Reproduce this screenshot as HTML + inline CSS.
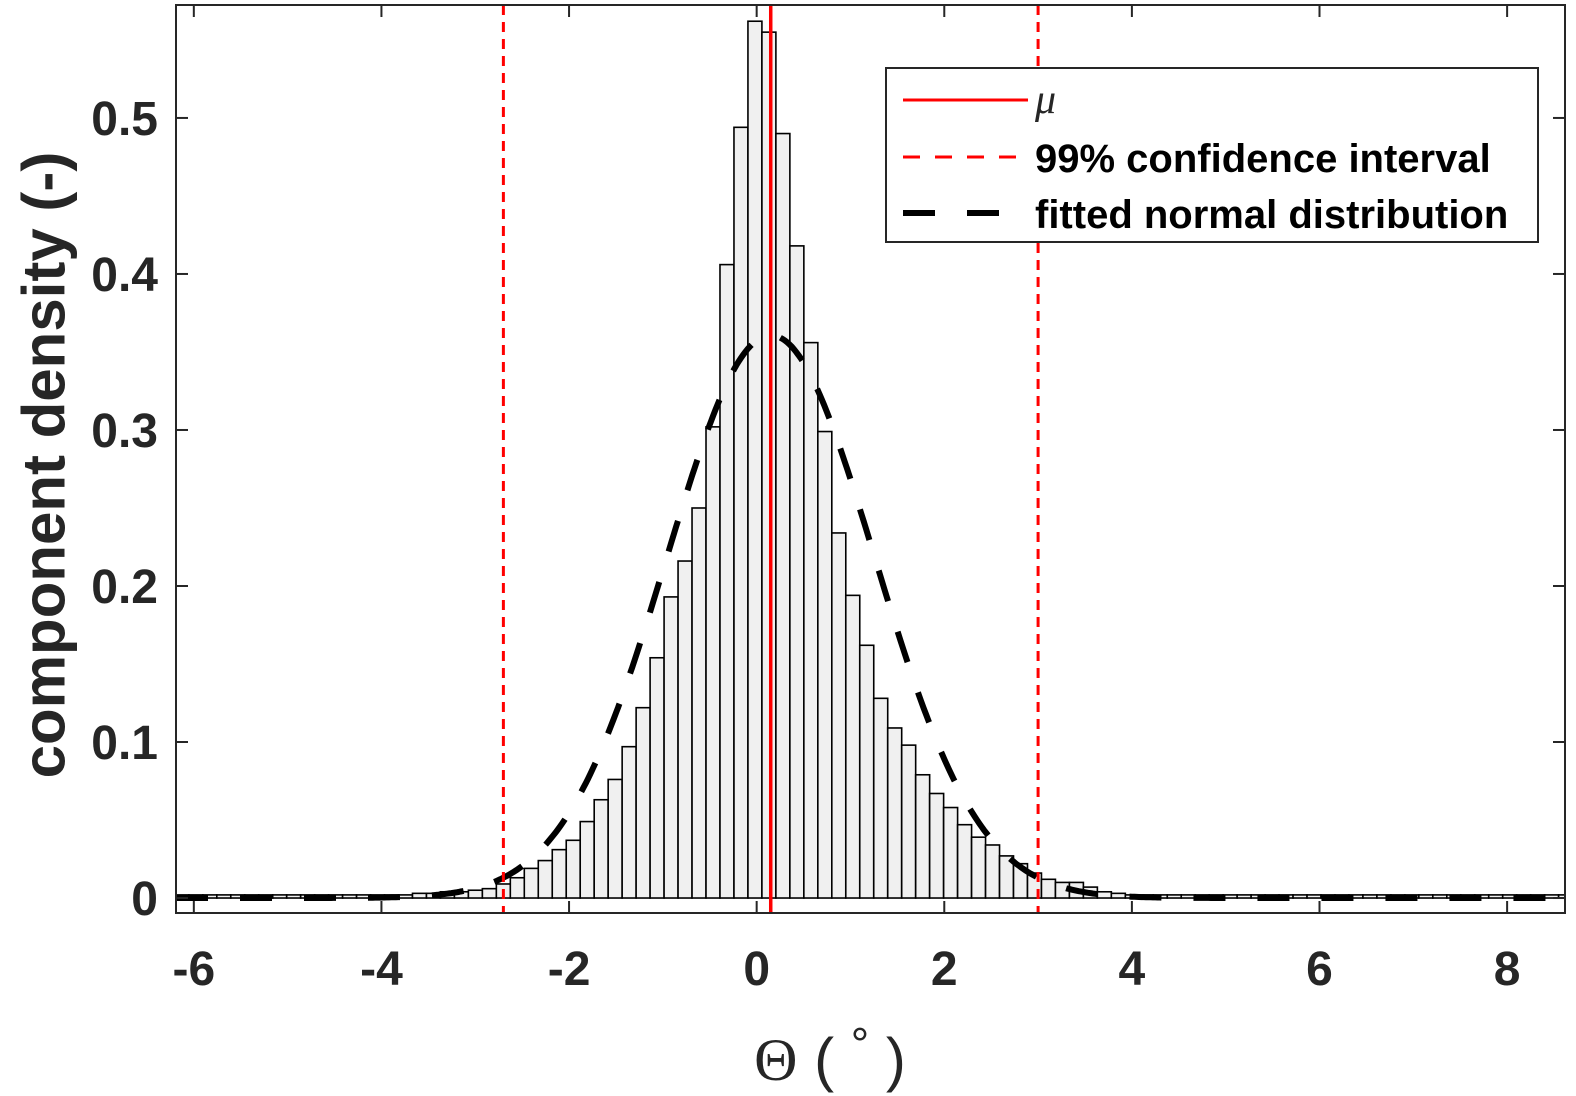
<!DOCTYPE html>
<html><head><meta charset="utf-8"><style>
html,body{margin:0;padding:0;background:#fff;}
svg{display:block;font-family:"Liberation Sans",sans-serif;}
</style></head><body>
<svg id="chart" width="1576" height="1096" viewBox="0 0 1576 1096" xmlns="http://www.w3.org/2000/svg">
<defs><clipPath id="clip"><rect x="176" y="5" width="1389" height="908"/></clipPath></defs>
<rect x="0" y="0" width="1576" height="1096" fill="#fff"/>
<g id="bars" clip-path="url(#clip)"></g>
<g id="lines" clip-path="url(#clip)"></g>
<rect x="176" y="5" width="1389" height="908" fill="none" stroke="#262626" stroke-width="2"/>
<g id="ticks"></g>
<text x="44" y="465" transform="rotate(-90 44 465)" text-anchor="middle" dominant-baseline="central" font-size="60" font-weight="bold" fill="#262626">component density (-)</text>
<text x="830" y="1080" text-anchor="middle" font-size="60" fill="#262626"><tspan font-family="Liberation Serif,serif">Θ</tspan> ( <tspan font-size="46" dy="-20">°</tspan><tspan dy="20"> )</tspan></text>
<g>
<rect x="886" y="68" width="652" height="174" fill="#fff" stroke="#262626" stroke-width="2"/>
<line x1="903" y1="100" x2="1028" y2="100" stroke="#ff0000" stroke-width="3"/>
<text x="1035" y="113" font-size="42" font-style="italic" font-family="Liberation Serif,serif" fill="#262626">μ</text>
<line x1="903" y1="157" x2="1028" y2="157" stroke="#ff0000" stroke-width="3" stroke-dasharray="17,15"/>
<text x="1035" y="172" font-size="40" font-weight="bold" fill="#000">99% confidence interval</text>
<line x1="903" y1="213" x2="1028" y2="213" stroke="#000" stroke-width="6" stroke-dasharray="32,32"/>
<text x="1035" y="228" font-size="40" font-weight="bold" fill="#000">fitted normal distribution</text>
</g>
</svg>
<script>
const binHeights = [0.002,0.002,0.002,0.002,0.002,0.002,0.002,0.002,0.002,0.002,0.002,0.002,0.002,0.002,0.002,0.002,0.002,
0.003,0.003,0.004,0.004,0.005,0.006,0.009,0.013,0.019,0.024,0.031,0.037,0.049,0.063,0.076,0.097,0.122,0.154,0.193,0.216,0.250,0.302,0.406,0.494,
0.562,0.555,0.490,0.418,0.356,0.299,0.234,0.194,0.162,0.128,0.109,0.098,0.079,0.067,0.058,0.047,0.039,0.034,0.027,0.022,0.016,0.012,0.010,0.010,0.007,0.004,0.003,
0.002,0.002,0.002,0.002,0.002,0.002,0.002,0.002,0.002,0.002,0.002,0.002,0.002,0.002,0.002,0.002,0.002,0.002,0.002,0.002,0.002,0.002,0.002,0.002,0.002,0.002,
0.002,0.002,0.002,0.002,0.002,0.002,0.002];
const binStart = [-6.202];
const binWidth = [0.149];
const fitMu = [0.15];
const fitSigma = [1.106];
const ciBounds = [-2.70, 3.00];
const xTicks = [-6,-4,-2,0,2,4,6,8];
const xTickLabels = ["-6","-4","-2","0","2","4","6","8"];
const yTicks = [0,0.1,0.2,0.3,0.4,0.5];
const yTickLabels = ["0","0.1","0.2","0.3","0.4","0.5"];

const NS="http://www.w3.org/2000/svg";
const X0=176,X1=1565,Y0=913,Y1=5;
const xmin=-6.19,xmax=8.617,ymin=-0.0096,ymax=0.5724;
function sx(v){return X0+(v-xmin)/(xmax-xmin)*(X1-X0);}
function sy(v){return Y0-(v-ymin)/(ymax-ymin)*(Y0-Y1);}
function mk(tag,attrs,parent){const e=document.createElementNS(NS,tag);for(const k in attrs)e.setAttribute(k,attrs[k]);parent.appendChild(e);return e;}

const bars=document.getElementById('bars');
binHeights.forEach((h,i)=>{
  const a=binStart[0]+i*binWidth[0],b=a+binWidth[0];
  const r=mk('rect',{x:sx(a),y:sy(h),width:sx(b)-sx(a),height:sy(0)-sy(h),fill:'#f0f0f0',stroke:'#000','stroke-width':1.6},bars);
  
  
});

const lines=document.getElementById('lines');
let pts=[];
for(let i=0;i<=600;i++){const x=xmin+(xmax-xmin)*i/600;const y=Math.exp(-0.5*Math.pow((x-fitMu[0])/fitSigma[0],2))/(fitSigma[0]*Math.sqrt(2*Math.PI));pts.push(sx(x).toFixed(1)+','+sy(y).toFixed(1));}
const fit=mk('polyline',{points:pts.join(' '),fill:'none',stroke:'#000','stroke-width':6,'stroke-dasharray':'32,32'},lines);


ciBounds.forEach(c=>{
  const l=mk('line',{x1:sx(c),x2:sx(c),y1:Y1,y2:Y0,stroke:'#ff0000','stroke-width':3,'stroke-dasharray':'10,7'},lines);
  
  
});
const mu=mk('line',{x1:sx(fitMu[0]),x2:sx(fitMu[0]),y1:Y1,y2:Y0,stroke:'#ff0000','stroke-width':3.5},lines);



const ticks=document.getElementById('ticks');
xTicks.forEach((t,i)=>{
  const x=sx(t);
  mk('line',{x1:x,x2:x,y1:Y0,y2:Y0-12,stroke:'#262626','stroke-width':2},ticks);
  mk('line',{x1:x,x2:x,y1:Y1,y2:Y1+12,stroke:'#262626','stroke-width':2},ticks);
  const tx=mk('text',{x:x,y:985,'text-anchor':'middle','font-size':48,'font-weight':'bold',fill:'#262626'},ticks);
  tx.textContent=xTickLabels[i];
  
  
});
yTicks.forEach((t,i)=>{
  const y=sy(t);
  mk('line',{x1:X0,x2:X0+12,y1:y,y2:y,stroke:'#262626','stroke-width':2},ticks);
  mk('line',{x1:X1,x2:X1-12,y1:y,y2:y,stroke:'#262626','stroke-width':2},ticks);
  const ty=mk('text',{x:158,y:y+17,'text-anchor':'end','font-size':48,'font-weight':'bold',fill:'#262626'},ticks);
  ty.textContent=yTickLabels[i];
  
  
});
</script>
</body></html>
